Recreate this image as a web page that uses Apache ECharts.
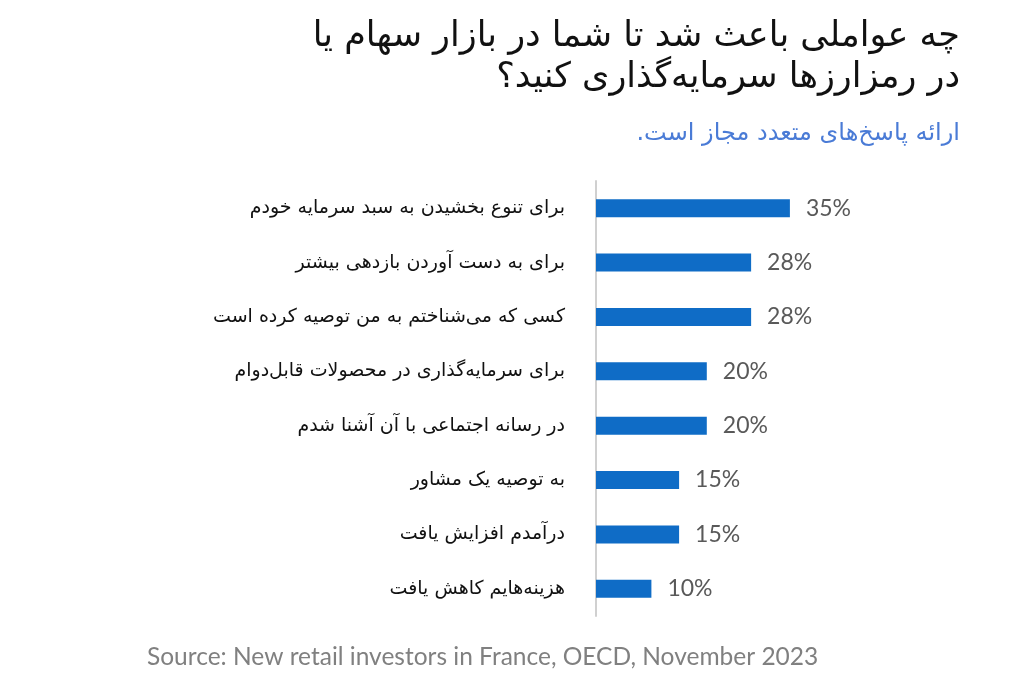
<!DOCTYPE html>
<html>
<head>
<meta charset="utf-8">
<script src="https://cdn.jsdelivr.net/npm/echarts@6/dist/echarts.min.js"></script>
<style>html,body{margin:0;padding:0;background:#fff}#c{width:1024px;height:680px}</style>
</head>
<body>
<div id="c"></div>
<script>
const categories = [
  "برای تنوع بخشیدن به سبد سرمایه خودم",
  "برای به دست آوردن بازدهی بیشتر",
  "کسی که می‌شناختم به من توصیه کرده است",
  "برای سرمایه‌گذاری در محصولات قابل‌دوام",
  "در رسانه اجتماعی با آن آشنا شدم",
  "به توصیه یک مشاور",
  "درآمدم افزایش یافت",
  "هزینه‌هایم کاهش یافت"
];
const values = [35, 28, 28, 20, 20, 15, 15, 10];
const titleText = "چه عواملی باعث شد تا شما در بازار سهام یا\nدر رمزارزها سرمایه‌گذاری کنید؟";
const subtitleText = "ارائه پاسخ‌های متعدد مجاز است.\u200F";
const sourceText = "Source: New retail investors in France, OECD, November 2023";

const chart = echarts.init(document.getElementById('c'));
chart.setOption({
  backgroundColor: '#ffffff',
  animation: false,
  graphic: [
    { type: 'text', x: 960, y: 16,
      style: { text: titleText, textAlign: 'right', textVerticalAlign: 'top',
        font: '35px "DejaVu Sans"', lineHeight: 41, fill: '#111111' } }
  ],
  title: [
    { text: subtitleText, right: 59, top: 117,
      textStyle: { fontSize: 24, fontWeight: 'normal', color: '#4a7bd6', fontFamily: 'DejaVu Sans' } },
    { text: sourceText, left: 142, top: 640,
      textStyle: { fontSize: 24.5, fontWeight: 'normal', color: '#808080', fontFamily: 'Lato' } }
  ],
  grid: { left: 596, top: 181, width: 277, height: 435, containLabel: false },
  xAxis: { type: 'value', min: 0, max: 50, show: false },
  yAxis: {
    type: 'category', data: categories, inverse: true,
    axisLine: { show: true, lineStyle: { color: '#d0d0d0', width: 2 } },
    axisTick: { show: false },
    splitLine: { show: false },
    axisLabel: { margin: 31, fontSize: 19, color: '#111111', fontFamily: 'DejaVu Sans' }
  },
  series: [{
    type: 'bar', data: values, barWidth: 18,
    itemStyle: { color: '#0f6cc6' },
    label: { show: true, position: 'right', distance: 16, formatter: '{c}%',
      fontSize: 23, color: '#595959', fontFamily: 'Lato' }
  }]
});
</script>
</body>
</html>
